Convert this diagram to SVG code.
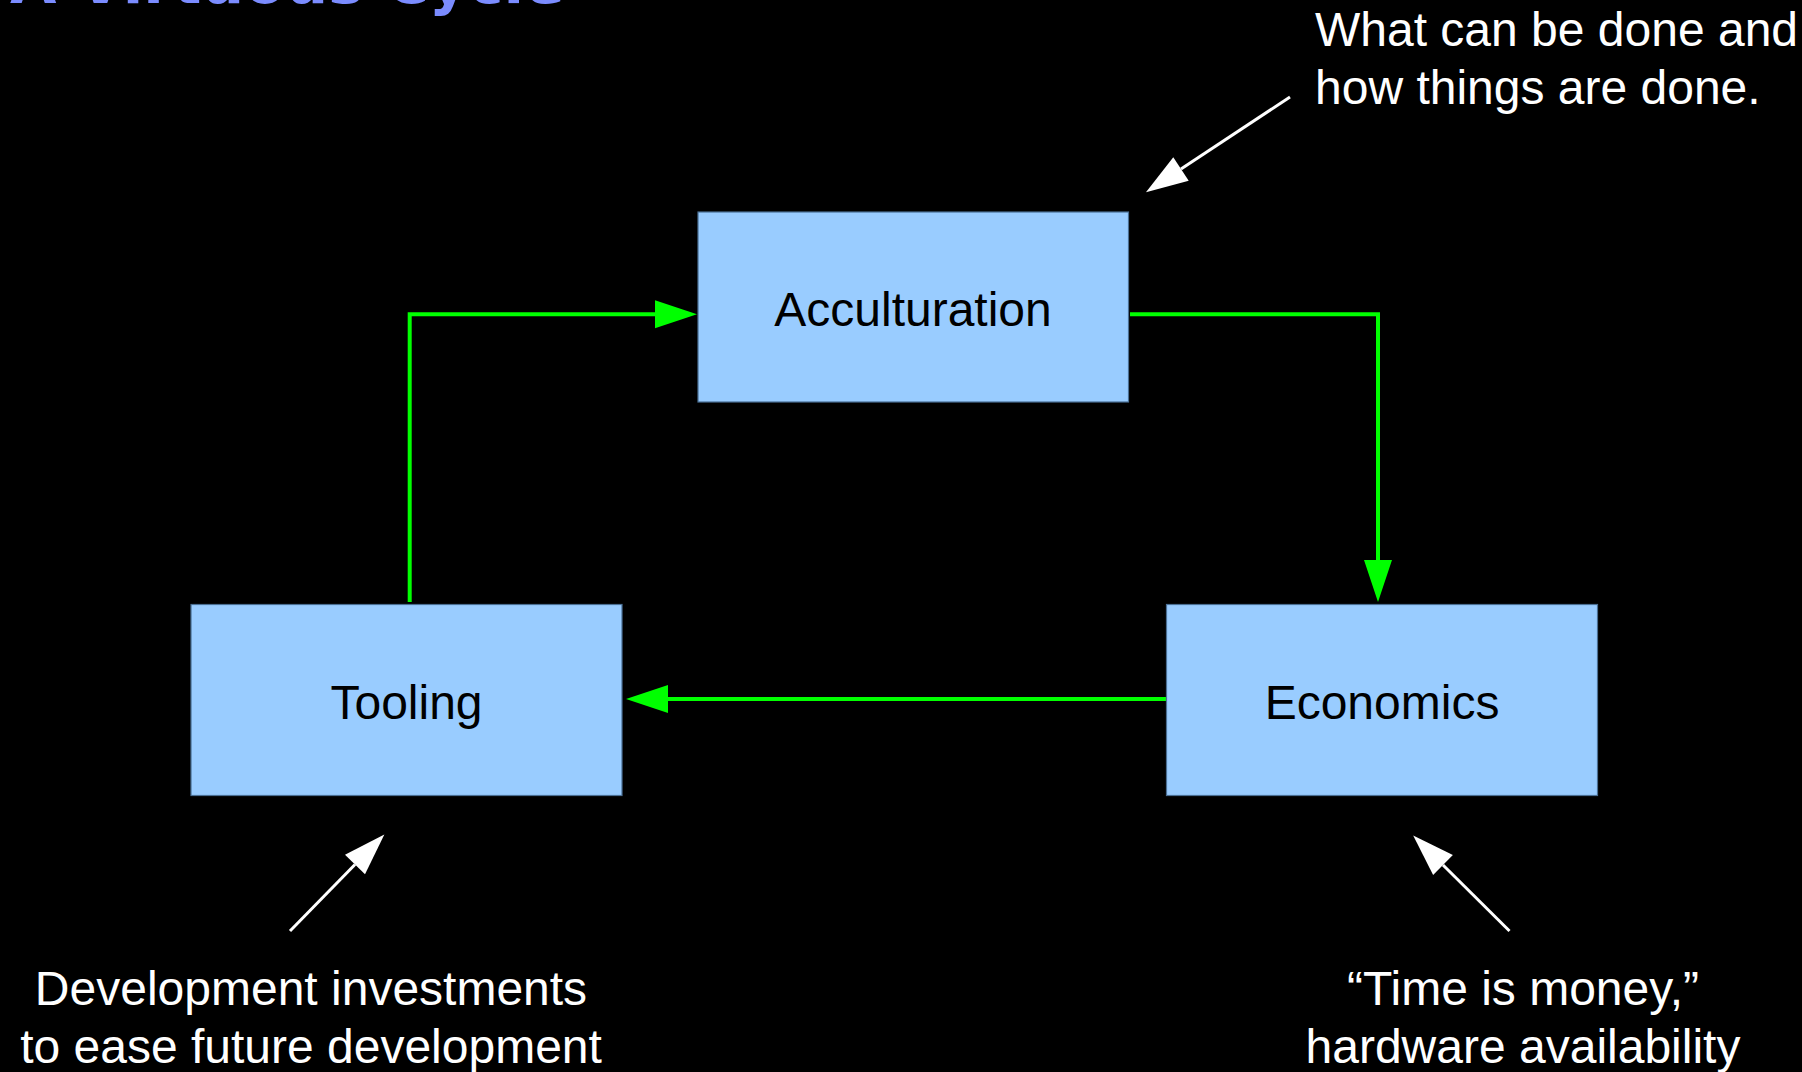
<svg xmlns="http://www.w3.org/2000/svg" width="1802" height="1072" viewBox="0 0 1802 1072">
<style>
.node rect{fill:#99ccff;stroke:#4a6f94;stroke-width:1.2}
.lbl{font-family:"Liberation Sans",Arial,sans-serif;font-size:48px;fill:#000;text-anchor:middle}
.note{font-family:"Liberation Sans",Arial,sans-serif;font-size:48px;fill:#fff}
.flow{fill:none;stroke:#00ff00;stroke-width:4;marker-end:url(#ga)}
.ann{fill:none;stroke:#fff;stroke-width:3;marker-end:url(#wa)}
.title{font-family:"DejaVu Sans",sans-serif;font-weight:bold;font-size:60px;fill:#7b8cff}
</style>
<defs>
<marker id="ga" markerUnits="userSpaceOnUse" viewBox="0 -14 42 28" refX="0" refY="0" markerWidth="42" markerHeight="28" orient="auto" overflow="visible">
<path d="M0,-14 L42,0 L0,14 Z" fill="#00ff00"/>
</marker>
<marker id="wa" markerUnits="userSpaceOnUse" viewBox="0 -14 42 28" refX="0" refY="0" markerWidth="42" markerHeight="28" orient="auto" overflow="visible">
<path d="M0,-14 L42,0 L0,14 Z" fill="#fff"/>
</marker>
</defs>
<rect x="0" y="0" width="1802" height="1072" fill="#000"/>
<text class="title" x="10" y="3">A Virtuous Cycle</text>
<g id="connectors">
<path class="flow" d="M409.7,602 L409.7,314.3 L655,314.3"/>
<path class="flow" d="M1130,314.3 L1378,314.3 L1378,560"/>
<path class="flow" d="M1166,699 L668,699"/>
<path class="ann" d="M1290,97 L1181,169"/>
<path class="ann" d="M290,931 L355,864.5"/>
<path class="ann" d="M1509.5,931 L1443,865"/>
</g>
<g id="acculturation" class="node">
<rect x="698" y="212" width="430.5" height="190"/>
<text class="lbl" x="913" y="326">Acculturation</text>
</g>
<g id="tooling" class="node">
<rect x="191" y="604.5" width="431" height="191"/>
<text class="lbl" x="406.5" y="719">Tooling</text>
</g>
<g id="economics" class="node">
<rect x="1166.5" y="604.5" width="431" height="191"/>
<text class="lbl" x="1382" y="719">Economics</text>
</g>
<g id="note-acculturation">
<text class="note" x="1315" y="46">What can be done and</text>
<text class="note" x="1315" y="104">how things are done.</text>
</g>
<g id="note-tooling">
<text class="note" x="311" y="1005" text-anchor="middle">Development investments</text>
<text class="note" x="311" y="1063" text-anchor="middle">to ease future development</text>
</g>
<g id="note-economics">
<text class="note" x="1523" y="1005" text-anchor="middle">“Time is money,”</text>
<text class="note" x="1523" y="1063" text-anchor="middle">hardware availability</text>
</g>
</svg>
